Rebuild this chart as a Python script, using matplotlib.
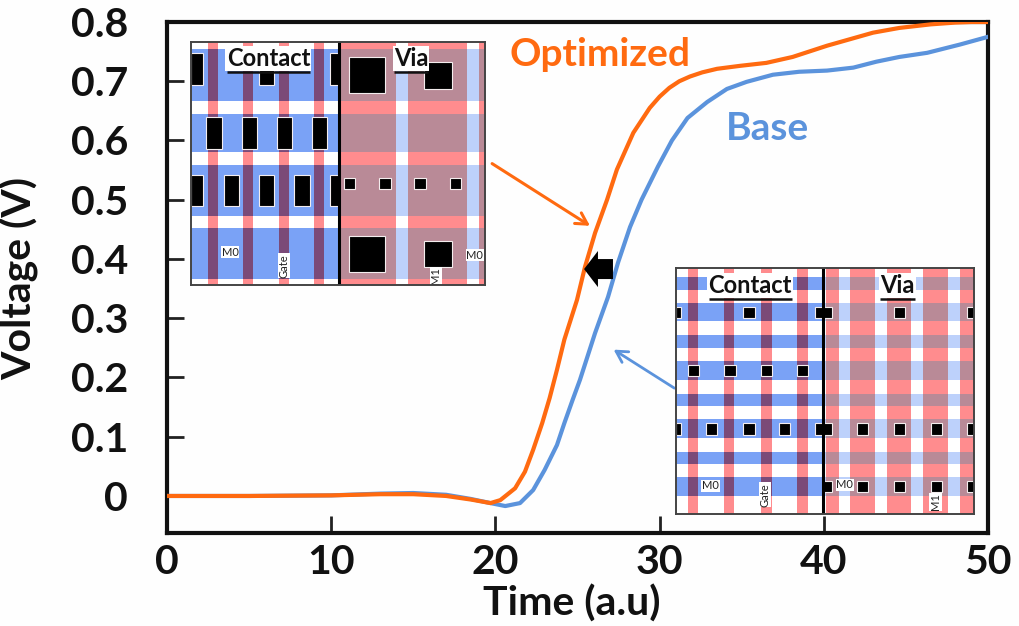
import matplotlib
matplotlib.use("Agg")
import matplotlib.pyplot as plt
from matplotlib.patches import Rectangle

plt.rcParams['font.family'] = ['Lato', 'DejaVu Sans']

W, H = 1020, 626

# ---- curves -------------------------------------------------------------
opt_t = [0, 5, 10, 13, 15, 17, 18.5, 19.7, 20.3, 21.2, 21.8, 22.3, 22.85, 23.3, 23.75, 24.2, 24.97, 25.46, 26.07, 26.8, 27.4,
         28.4, 29.4, 30.0, 30.6, 31.2, 31.85, 32.6, 33.5, 34.9, 36.5, 38.1, 40.2, 43, 44.6, 46.5, 48, 49, 50]
opt_v = [0, 0, 0.001, 0.003, 0.003, 0, -0.006, -0.012, -0.007, 0.013, 0.041, 0.078, 0.123, 0.165, 0.213, 0.264, 0.331, 0.387, 0.444, 0.50, 0.551,
         0.613, 0.655, 0.674, 0.689, 0.700, 0.708, 0.715, 0.721, 0.726, 0.731, 0.741, 0.76, 0.782, 0.79, 0.796, 0.799, 0.80, 0.80]
base_t = [0, 5, 10, 13, 15, 17, 18.5, 19.7, 20.6, 21.5, 22.3, 23.0, 23.75, 24.2, 24.7, 25.15, 26.07, 26.86, 27.47, 28.2, 28.9, 29.9,
          30.75, 31.7, 32.9, 34.1, 35.3, 36.9, 38.5, 40.2, 41.8, 43.2, 44.6, 46.3, 48.3, 50]
base_v = [0, 0, 0.001, 0.004, 0.005, 0.002, -0.005, -0.012, -0.017, -0.012, 0.01, 0.044, 0.086, 0.123, 0.162, 0.196, 0.275, 0.336, 0.394, 0.454, 0.50, 0.556,
          0.60, 0.638, 0.665, 0.687, 0.699, 0.711, 0.716, 0.718, 0.723, 0.733, 0.741, 0.748, 0.762, 0.775]
x_ticks = [0, 10, 20, 30, 40, 50]
y_ticks = [0, 0.1, 0.2, 0.3, 0.4, 0.5, 0.6, 0.7, 0.8]
y_labels = ['0', '0.1', '0.2', '0.3', '0.4', '0.5', '0.6', '0.7', '0.8']

# ---- layout inset A (optimized) ----------------------------------------
a_box = (33, 915, 38, 762)
a_div = 477
a_h = [(60, 213), (252, 365), (403, 555), (593, 745)]
a_red_contact = [(85, 115), (190, 220), (298, 328), (403, 433)]
a_red_via = [(483, 648), (685, 862), (898, 915)]
a_blocks = [(33, 70, 72, 165), (237, 282, 100, 165), (450, 477, 72, 165),
            (78, 125, 262, 357), (185, 230, 262, 357), (290, 336, 262, 357), (396, 441, 262, 357),
            (33, 70, 433, 527), (132, 178, 433, 527), (237, 282, 433, 527), (343, 389, 433, 527), (450, 477, 433, 527),
            (508, 616, 84, 190), (733, 815, 98, 177),
            (492, 526, 444, 477), (598, 632, 444, 477), (703, 738, 444, 477), (810, 844, 444, 477),
            (508, 616, 616, 722), (733, 815, 630, 708)]
a_heads = [('Contact', 265, 92), ('Via', 693, 92)]
a_small = [('M0', 150, 664, 0), ('Gate', 312, 705, 90), ('M1', 768, 735, 90), ('M0', 884, 673, 0)]

# ---- layout inset B (base) ---------------------------------------------
b_box = (33, 925, 25, 762)
b_div = 473
b_h = [(52, 90), (130, 185), (226, 265), (305, 360), (402, 438), (478, 535), (575, 612), (652, 708)]
b_red_contact = [(68, 100), (178, 208), (288, 320), (396, 428)]
b_red_via = [(483, 520), (555, 630), (665, 735), (772, 847), (884, 925)]
b_blocks = [(33, 48, 141, 175), (233, 268, 141, 175), (450, 473, 141, 175),
            (69, 103, 315, 349), (178, 212, 315, 349), (287, 321, 315, 349), (395, 429, 315, 349),
            (33, 48, 490, 524), (123, 157, 490, 524), (233, 268, 490, 524), (341, 375, 490, 524), (450, 473, 490, 524),
            (473, 500, 141, 175), (685, 719, 141, 175), (903, 925, 141, 175),
            (473, 500, 490, 524), (575, 609, 490, 524), (685, 719, 490, 524), (795, 829, 490, 524), (903, 925, 490, 524),
            (473, 500, 663, 697), (575, 609, 663, 697), (685, 719, 663, 697), (795, 829, 663, 697), (903, 925, 663, 697)]
b_heads = [('Contact', 255, 82), ('Via', 695, 82)]
b_small = [('M0', 136, 678, 0), ('Gate', 300, 705, 90), ('M0', 538, 675, 0), ('M1', 810, 725, 90)]

BLUE = '#7AA2F6'
LBLUE = '#BDD1FB'
RED = '#FF8C8E'
PURPLE = '#7B4A78'
MAUVE = '#B98A97'
ORANGE = '#FF6A10'
CURVE_BLUE = '#5B93DC'
INK = '#111111'


def px_axes(fig, x0, x1, y0, y1, **kw):
    return fig.add_axes([x0 / W, 1 - y1 / H, (x1 - x0) / W, (y1 - y0) / H], **kw)


def panel(ax, xr, yr, h_bands, v_bands, hc, vc, oc):
    x0, x1 = xr
    y0, y1 = yr
    for a, b in h_bands:
        ax.add_patch(Rectangle((x0, a), x1 - x0, b - a, fc=hc, lw=0, zorder=1))
    for a, b in v_bands:
        ax.add_patch(Rectangle((a, y0), b - a, y1 - y0, fc=vc, lw=0, zorder=2))
        for c, d in h_bands:
            ax.add_patch(Rectangle((a, c), b - a, d - c, fc=oc, lw=0, zorder=3))


def inset(fig, px, box, div, h_bands, red_c, red_v, blocks, heads, small):
    ax = px_axes(fig, *px, zorder=5)
    ax.set_xlim(box[0], box[1])
    ax.set_ylim(box[3], box[2])
    ax.set_xticks([])
    ax.set_yticks([])
    panel(ax, (box[0], div), (box[2], box[3]), h_bands, red_c, BLUE, RED, PURPLE)
    panel(ax, (div, box[1]), (box[2], box[3]), h_bands, red_v, LBLUE, RED, MAUVE)
    for x0, x1, y0, y1 in blocks:
        ax.add_patch(Rectangle((x0, y0), x1 - x0, y1 - y0, fc='black', ec='#F4EDEE', lw=0.8, zorder=4))
    ax.axvline(div, color='black', lw=2.2, zorder=6)
    for s, x, y in heads:
        ax.text(x, y - 4, s, ha='center', va='center', fontsize=17, fontweight='bold', color=INK, zorder=7,
                bbox=dict(fc='white', ec='none', pad=0.8))
        hw = 124 if s == 'Contact' else 52
        ax.plot([x - hw, x + hw], [y + 36, y + 36], color=INK, lw=1.8, zorder=8, solid_capstyle='butt')
    for s, x, y, r in small:
        ax.text(x, y, s, ha='center', va='center', fontsize=8, rotation=r, color='#222222', zorder=7,
                bbox=dict(fc='white', ec='none', pad=0.5))
    for sp in ax.spines.values():
        sp.set_color('#444444')
        sp.set_linewidth(1.4)
        sp.set_zorder(9)
    return ax


fig = plt.figure(figsize=(W / 100, H / 100), dpi=100, facecolor='#FEFEFE')
ax = px_axes(fig, 167, 988, 22, 533, facecolor='#FEFEFE')
ax.set_xlim(0, 50)
ax.set_ylim(-0.0625, 0.8)
ax.plot(base_t, base_v, color=CURVE_BLUE, lw=3.0, zorder=3)
ax.plot(opt_t, opt_v, color=ORANGE, lw=3.0, zorder=4)
ax.set_xticks(x_ticks)
ax.set_yticks(y_ticks)
ax.set_yticklabels(y_labels)
ax.tick_params(axis='both', direction='in', length=12, width=2, color='#222222', labelsize=29.5)
ax.tick_params(axis='y', pad=28)
ax.tick_params(axis='x', pad=8)
for lab in ax.get_xticklabels() + ax.get_yticklabels():
    lab.set_fontweight('bold')
    lab.set_color(INK)
fig.text(572 / W, 1 - 604 / H, 'Time (a.u)', fontsize=29.5, fontweight='bold', color=INK, ha='center', va='center')
fig.text(20 / W, 1 - 278 / H, 'Voltage (V)', fontsize=29.5, fontweight='bold', color=INK, ha='center', va='center', rotation=90)
for s in ax.spines.values():
    s.set_linewidth(3)
    s.set_color(INK)

ax.text(26.4, 0.745, 'Optimized', color=ORANGE, fontsize=28, fontweight='bold', ha='center', va='center', zorder=6)
ax.text(36.6, 0.62, 'Base', color=CURVE_BLUE, fontsize=28, fontweight='bold', ha='center', va='center', zorder=6)

ax.annotate('', xy=(25.76, 0.456), xytext=(19.8, 0.561),
            arrowprops=dict(arrowstyle='->,head_length=0.8,head_width=0.45', color=ORANGE, lw=2.2, shrinkA=0, shrinkB=0), zorder=6)
ax.annotate('', xy=(27.2, 0.247), xytext=(30.9, 0.182),
            arrowprops=dict(arrowstyle='->,head_length=0.8,head_width=0.45', color=CURVE_BLUE, lw=2.0, shrinkA=0, shrinkB=0), zorder=6)
ax.annotate('', xy=(25.4, 0.383), xytext=(27.16, 0.383),
            arrowprops=dict(arrowstyle='simple,head_length=0.5,head_width=1.3,tail_width=0.72', mutation_scale=20,
                            fc='black', ec='black', lw=0, shrinkA=0, shrinkB=0), zorder=7)

inset(fig, (191, 485, 42, 285), a_box, a_div, a_h, a_red_contact, a_red_via, a_blocks, a_heads, a_small)
inset(fig, (676, 974, 268, 514), b_box, b_div, b_h, b_red_contact, b_red_via, b_blocks, b_heads, b_small)

fig.savefig('out.png', dpi=100, facecolor=fig.get_facecolor())
